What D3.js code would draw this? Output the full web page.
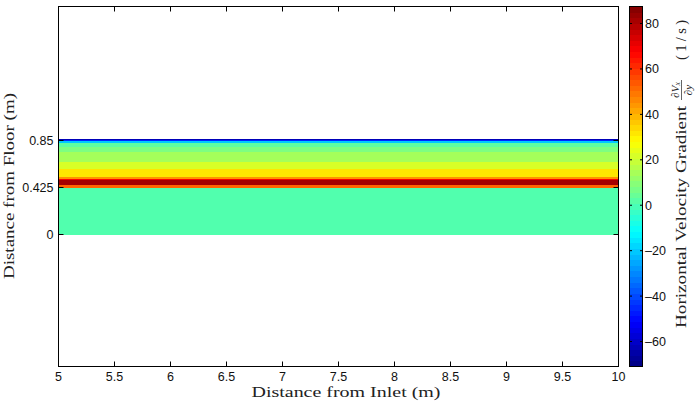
<!DOCTYPE html>
<html><head><meta charset="utf-8">
<script src="https://cdn.jsdelivr.net/npm/d3@7"></script>
<style>body{margin:0;background:#fff}svg{display:block}</style>
</head><body>
<svg id="c" width="697" height="404"></svg>
<script>
// ---- data ----
const xTicks = [5, 5.5, 6, 6.5, 7, 7.5, 8, 8.5, 9, 9.5, 10];
const xTickLabels = ["5","5.5","6","6.5","7","7.5","8","8.5","9","9.5","10"];
const yTicks = [0, 0.425, 0.85];
const yTickLabels = ["0","0.425","0.85"];
// horizontal bands of the field: lower edge, upper edge (m), gradient value (1/s)
const bandLow  = [0,     0.425, 0.449, 0.495, 0.506, 0.527, 0.597, 0.660, 0.750, 0.798, 0.829, 0.844, 0.859];
const bandHigh = [0.425, 0.449, 0.495, 0.506, 0.527, 0.597, 0.660, 0.750, 0.798, 0.829, 0.844, 0.859, 0.866];
const bandValue= [1,     52,    82,    68,    45,    32,    22,    14,    8,     3,     -20,   -45,   -62];
const cbTicks = [80, 60, 40, 20, 0, -20, -40, -60];
const cbTickLabels = ["80","60","40","20","0","\u201320","\u201340","\u201360"];
const xDomain = [5, 10];
const yDomain = [-1.193, 2.061];
const cDomain = [-71, 87.5];

// ---- layout ----
const svg = d3.select("#c");
const L = 58.5, R = 618.5, T = 6.5, B = 366.5;
const x = d3.scaleLinear().domain(xDomain).range([L, R]);
const y = d3.scaleLinear().domain(yDomain).range([B, T]);
const cbL = 629, cbR = 643;
const cy = d3.scaleLinear().domain(cDomain).range([B, T]);

function jet(t){
  const c = v => Math.max(0, Math.min(1, v));
  const r = c(1.5 - Math.abs(4*t - 3)), g = c(1.5 - Math.abs(4*t - 2)), b = c(1.5 - Math.abs(4*t - 1));
  return d3.rgb(r*255, g*255, b*255).toString();
}
const color = v => jet((v - cDomain[0])/(cDomain[1]-cDomain[0]));

// field bands
const bands = bandValue.map((v,i)=>({lo:bandLow[i], hi:bandHigh[i], v}));
svg.append("g").selectAll("rect").data(bands).join("rect")
  .attr("x", x(xDomain[0])).attr("width", x(xDomain[1]) - x(xDomain[0]))
  .attr("y", d => y(d.hi)).attr("height", d => y(d.lo) - y(d.hi) + 0.3)
  .attr("fill", d => color(d.v)).attr("shape-rendering","crispEdges");

// axes box
svg.append("rect").attr("x", L).attr("y", T).attr("width", R-L).attr("height", B-T)
  .attr("fill","none").attr("stroke","#000").attr("stroke-width",1);

const tickFont = "'Liberation Sans', Arial, Helvetica, sans-serif";
const tl = 5;
// x ticks (inward, bottom and top)
const gx = svg.append("g");
gx.selectAll("line.b").data(xTicks).join("line").attr("class","b")
  .attr("x1", d=>x(d)).attr("x2", d=>x(d)).attr("y1", B).attr("y2", B-tl).attr("stroke","#000");
gx.selectAll("line.t").data(xTicks).join("line").attr("class","t")
  .attr("x1", d=>x(d)).attr("x2", d=>x(d)).attr("y1", T).attr("y2", T+tl).attr("stroke","#000");
gx.selectAll("text").data(xTicks).join("text")
  .attr("x", d=>x(d)).attr("y", 381).attr("text-anchor","middle")
  .attr("font-family", tickFont).attr("font-size", 12.5).attr("fill","#111")
  .text((d,i)=>xTickLabels[i]);
// y ticks
const gy = svg.append("g");
gy.selectAll("line.l").data(yTicks).join("line").attr("class","l")
  .attr("x1", L).attr("x2", L+tl).attr("y1", d=>y(d)).attr("y2", d=>y(d)).attr("stroke","#000");
gy.selectAll("line.r").data(yTicks).join("line").attr("class","r")
  .attr("x1", R).attr("x2", R-tl).attr("y1", d=>y(d)).attr("y2", d=>y(d)).attr("stroke","#000");
gy.selectAll("text").data(yTicks).join("text")
  .attr("x", L-5).attr("y", d=>y(d)+4.5).attr("text-anchor","end")
  .attr("font-family", tickFont).attr("font-size", 12.5).attr("fill","#111")
  .text((d,i)=>yTickLabels[i]);

// axis titles
const serif = "'Liberation Serif', 'DejaVu Serif', serif";
svg.append("text").attr("x", 346).attr("y", 397).attr("text-anchor","middle")
  .attr("font-family", serif).attr("font-size", 14.5).attr("fill","#222")
  .attr("textLength", 189).attr("lengthAdjust","spacingAndGlyphs")
  .text("Distance from Inlet (m)");
svg.append("text").attr("transform","translate(14,186) rotate(-90)").attr("text-anchor","middle")
  .attr("font-family", serif).attr("font-size", 14.5).attr("fill","#222")
  .attr("textLength", 186).attr("lengthAdjust","spacingAndGlyphs")
  .text("Distance from Floor (m)");

// colorbar
const nCol = 64;
const steps = d3.range(nCol);
const cstep = (cDomain[1]-cDomain[0])/nCol;
svg.append("g").selectAll("rect").data(steps).join("rect")
  .attr("x", cbL).attr("width", cbR-cbL)
  .attr("y", i => cy(cDomain[0] + (i+1)*cstep))
  .attr("height", i => cy(cDomain[0] + i*cstep) - cy(cDomain[0] + (i+1)*cstep) + 0.5)
  .attr("fill", i => jet((i+0.5)/nCol)).attr("shape-rendering","crispEdges");
svg.append("rect").attr("x", cbL+0.5).attr("y", T).attr("width", cbR-cbL-1).attr("height", B-T)
  .attr("fill","none").attr("stroke","#000");
const gc = svg.append("g");
gc.selectAll("line.l").data(cbTicks).join("line").attr("class","l")
  .attr("x1", cbL).attr("x2", cbL+3).attr("y1", d=>cy(d)).attr("y2", d=>cy(d)).attr("stroke","#000");
gc.selectAll("line.r").data(cbTicks).join("line").attr("class","r")
  .attr("x1", cbR).attr("x2", cbR-3).attr("y1", d=>cy(d)).attr("y2", d=>cy(d)).attr("stroke","#000");
gc.selectAll("text").data(cbTicks).join("text")
  .attr("x", cbR+2).attr("y", d=>cy(d)+4.5)
  .attr("font-family", tickFont).attr("font-size", 12.5).attr("fill","#111")
  .text((d,i)=>cbTickLabels[i]);

// colorbar title (rotated, with fraction)
const gt = svg.append("g").attr("transform","translate(686,328) rotate(-90)")
  .attr("font-family", serif).attr("fill","#222");
gt.append("text").attr("x",0).attr("y",0).attr("font-size",14.5)
  .attr("textLength",222).attr("lengthAdjust","spacingAndGlyphs")
  .text("Horizontal Velocity Gradient");
const fx = 238;
const num = gt.append("text").attr("x", fx).attr("y", -7.5).attr("text-anchor","middle")
  .attr("font-size",11).attr("font-style","italic");
num.append("tspan").text("\u2202V");
num.append("tspan").attr("font-size",7.5).attr("dy",1.5).text("x");
gt.append("line").attr("x1", fx-10).attr("x2", fx+10).attr("y1",-4.5).attr("y2",-4.5)
  .attr("stroke","#222").attr("stroke-width",0.7);
gt.append("text").attr("x", fx).attr("y", 5.5).attr("text-anchor","middle")
  .attr("font-size",11).attr("font-style","italic")
  .text("\u2202y");
gt.append("text").attr("x",268).attr("y",0).attr("font-size",14.5)
  .attr("textLength",40).attr("lengthAdjust","spacing")
  .text("(1/s)");
</script>
</body></html>
